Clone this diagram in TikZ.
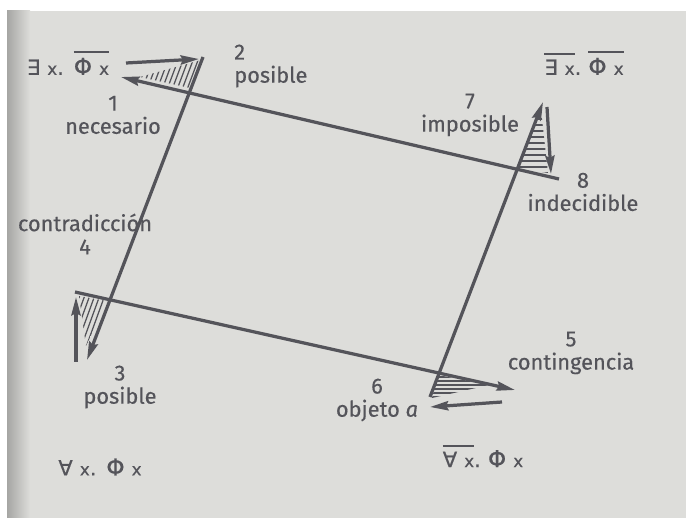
\documentclass[tikz,border=0pt]{standalone}
\usepackage{fontspec}
\setmainfont{Fira Sans}[FakeBold=0.4]
\newfontfamily\simbolos{DejaVu Sans}[FakeBold=0.4]
\usetikzlibrary{calc, arrows.meta}

\definecolor{papel}{RGB}{221,221,218}
\definecolor{tinta}{RGB}{84,84,90}

% barra de negacion sobre una formula
\newcommand{\barra}[1]{\vbox{\hrule height 1.4pt\kern 3.5pt\hbox{#1}}}
% variable x, algo menor que los cuantificadores
\newcommand{\xv}{{\fontsize{12}{12}\selectfont x}}
\newcommand{\Fi}{{\fontsize{16.5}{16}\selectfont Φ}}

\begin{document}
\begin{tikzpicture}[x=0.025cm, y=-0.025cm,
    linea/.style={tinta, line width=2.3pt, -{Stealth[length=13pt, width=6.5pt, inset=1.5pt]}},
    raya/.style={tinta, line width=0.9pt},
    etiqueta/.style={text=tinta, font=\fontsize{15.5}{16.5}\selectfont, align=center, inner sep=0pt},
    formula/.style={text=tinta, font=\simbolos\fontsize{15}{15}\selectfont, inner sep=0pt}]

    % --- Hoja de fondo (coordenadas en pixeles, y hacia abajo) ---
    \useasboundingbox (0,0) rectangle (686,518);
    \fill[papel] (7,11) rectangle (686,518);
    \shade[left color=papel!75!black, right color=papel] (7,11) rectangle (30,518);

    % =========================================================================
    % 1. Extremos de las rectas largas y de las flechas cortas
    % =========================================================================
    \coordinate (A0) at (559,179);  % recta superior
    \coordinate (A1) at (121,77);
    \coordinate (B0) at (203,57);   % recta izquierda
    \coordinate (B1) at (87,360);
    \coordinate (C0) at (75,292);   % recta inferior
    \coordinate (C1) at (515,390);
    \coordinate (D0) at (430,397);  % recta derecha
    \coordinate (D1) at (543,102);

    \coordinate (a0) at (126,63);  \coordinate (a1) at (199,59);
    \coordinate (b0) at (76,362);  \coordinate (b1) at (76,297);
    \coordinate (d0) at (547,107); \coordinate (d1) at (551,174);
    \coordinate (c0) at (502,402); \coordinate (c1) at (430,407);

    % =========================================================================
    % 2. Triangulos rayados en las cuatro esquinas
    % =========================================================================
    \begin{scope}
        \clip (140,77) -- (201,60) -- (190,88) -- cycle;
        \foreach \k in {115,120,...,215} \draw[raya] (\k,95) -- ++(15,-40);
    \end{scope}
    \begin{scope}
        \clip (79,296) -- (107,301) -- (86,346) -- cycle;
        \foreach \k in {55,60,...,115} \draw[raya] (\k,350) -- ++(20,-55);
    \end{scope}
    \begin{scope}
        \clip (541,110) -- (518,168) -- (548,173) -- cycle;
        \foreach \y in {113,119,...,173} \draw[raya] (510,\y) -- (555,\y);
    \end{scope}
    \begin{scope}
        \clip (438,375) -- (489,385) -- (432,398) -- cycle;
        \foreach \y in {377,381,...,401} \draw[raya] (425,\y) -- (495,\y);
    \end{scope}

    % =========================================================================
    % 3. Rectas largas (cuadrangulo) y flechas de retorno
    % =========================================================================
    \draw[linea] (A0) -- (A1);
    \draw[linea] (B0) -- (B1);
    \draw[linea] (C0) -- (C1);
    \draw[linea] (D0) -- (D1);

    \draw[linea] (a0) -- (a1);
    \draw[linea] (b0) -- (b1);
    \draw[linea] (d0) -- (d1);
    \draw[linea] (c0) -- (c1);

    % =========================================================================
    % 4. Etiquetas de los vertices
    % =========================================================================
    \node[etiqueta] (necesario) at (113,115) {1\\necesario};
    \node[etiqueta, align=left, anchor=west] (posibleA) at (234,66) {2\\posible};
    \node[etiqueta] (contradiccion) at (85,234) {contradicción\\4};
    \node[etiqueta] (posibleB) at (120,387) {3\\posible};
    \node[etiqueta] (contingencia) at (571,353) {5\\contingencia};
    \node[etiqueta] (objeto) at (377,400) {6\\objeto \textit{a}};
    \node[etiqueta] (imposible) at (470,115) {7\\imposible};
    \node[etiqueta] (indecidible) at (583,192) {8\\indecidible};

    % 5. Formulas de la sexuacion
    \node[formula] (existe) at (68,63) {∃\hspace{5pt}\xv.\hspace{7pt}\barra{\Fi\hspace{5pt}\xv}};
    \node[formula] (noexiste) at (584,63) {\barra{∃\hspace{5pt}\xv}.\hspace{5pt}\barra{\Fi\hspace{5pt}\xv}};
    \node[formula] (paratodo) at (100,467) {∀\hspace{5pt}\xv.\hspace{7pt}\Fi\hspace{5pt}\xv};
    \node[formula] (noparatodo) at (483,456) {\barra{∀\hspace{5pt}\xv}.\hspace{5pt}\Fi\hspace{5pt}\xv};

\end{tikzpicture}
\end{document}
